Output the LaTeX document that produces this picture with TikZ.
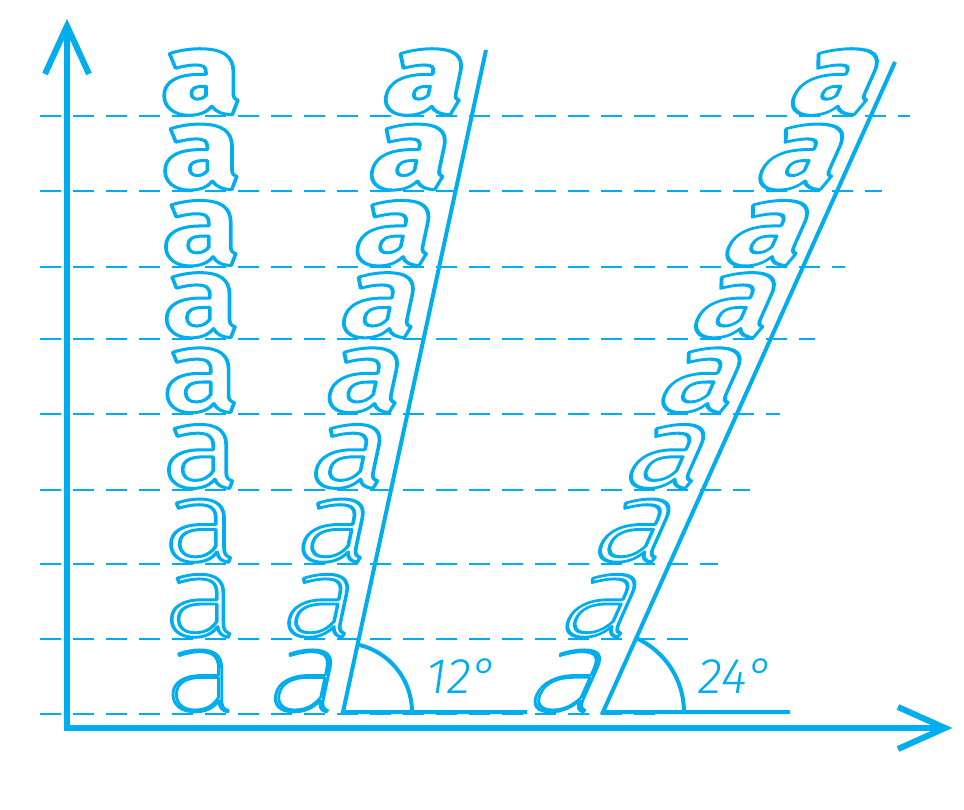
\documentclass[tikz,border=0pt]{standalone}
\usepackage{fontspec}
\newfontfamily\wThin{Fira Sans Thin}
\newfontfamily\wExtraLight{Fira Sans ExtraLight}
\newfontfamily\wLight{Fira Sans Light}
\newfontfamily\wRegular{Fira Sans}
\newfontfamily\wMedium{Fira Sans Medium}
\newfontfamily\wSemiBold{Fira Sans SemiBold}
\newfontfamily\wBold{Fira Sans Bold}
\newfontfamily\wExtraBold{Fira Sans ExtraBold}
\newfontfamily\wHeavy{Fira Sans Black}
\newfontfamily\labfont{Fira Sans Light Italic}
\definecolor{acol}{RGB}{0,174,239}
\newcommand\outl[2]{\special{pdf:literal direct 1 Tr #1 w 1 j}#2\special{pdf:literal direct 0 Tr}}
\tikzset{
  axisline/.style={draw=acol, line width=5.5pt},
  headline/.style={draw=acol, line width=6pt, line join=miter},
  guide/.style={draw=acol, line width=2.4pt, dash pattern=on 21pt off 12pt},
  slantline/.style={draw=acol, line width=4pt},
  letter/.style={anchor=base, inner sep=0pt, outer sep=0pt, text=acol, transform shape, font=\fontsize{116}{116}\selectfont},
  lbl/.style={anchor=base, inner sep=0pt, text=acol, font=\labfont\fontsize{50}{50}\selectfont}
}
\begin{document}
\begin{tikzpicture}[x=1pt,y=-1pt]
\useasboundingbox (0,0) rectangle (964,810);
% guide lines
\foreach \gy/\gx in {116/910,191/882,267/845,339/815,414/780,490/750,564/718,639/688,714/660}{
  \draw[guide] (40,\gy) -- (\gx,\gy);
}
% angle labels (set first)
\node[lbl] (l12) at (462,693) {12°};
\node[lbl] (l24) at (736,693) {24°};
% letters
\foreach \ly/\fn/\sw [count=\i from 0] in {714/Thin/2.3,639/ExtraLight/2.9,564/Light/3.0,490/Regular/3.0,414/Medium/3.0,339/SemiBold/3.0,267/Bold/3.0,191/ExtraBold/3.0,116/Heavy/3.0}{
  \pgfmathsetmacro\yb{\ly-3}
  \pgfmathsetmacro\xa{201}
  \pgfmathsetmacro\xb{343+(712-\yb)*0.2126-43-\i*1.0}
  \pgfmathsetmacro\xc{603+(712-\yb)*0.4452-46}
  \begin{scope}[shift={(\xa,\yb)}, xscale=1.22]
    \node[letter] (c1-\i) at (0,0) {\csname w\fn\endcsname\outl{\sw}{a}};
  \end{scope}
  \begin{scope}[shift={(\xb,\yb)}, xslant=0.2126, xscale=1.22]
    \node[letter] (c2-\i) at (0,0) {\csname w\fn\endcsname\outl{\sw}{a}};
  \end{scope}
  \begin{scope}[shift={(\xc,\yb)}, xslant=0.4452, xscale=1.22]
    \node[letter] (c3-\i) at (0,0) {\csname w\fn\endcsname\outl{\sw}{a}};
  \end{scope}
}
% 12 degree construction
\coordinate (A0) at (343,712);
\coordinate (A1) at (486,50);
\coordinate (A2) at (527,712);
\draw[slantline] (A1) -- (A0) -- (A2);
\draw[slantline] (A0) ++(69,0) arc[start angle=0, end angle=-77.8, radius=69];
% 24 degree construction
\coordinate (B0) at (603,712);
\coordinate (B1) at (895,62);
\coordinate (B2) at (790,712);
\draw[slantline] (B1) -- (B0) -- (B2);
\draw[slantline] (B0) ++(81,0) arc[start angle=0, end angle=-65.8, radius=81];
% axes
\coordinate (O) at (67,728);
\coordinate (Ytip) at (67,26);
\coordinate (Xtip) at (945,728);
\coordinate (Yl) at (45,74);
\coordinate (Yr) at (89,74);
\coordinate (Xu) at (898,707);
\coordinate (Xd) at (898,749);
\draw[axisline] (Ytip) -- (O) -- (Xtip);
\draw[headline] (Yl) -- (Ytip) -- (Yr);
\draw[headline] (Xu) -- (Xtip) -- (Xd);
\end{tikzpicture}
\end{document}
